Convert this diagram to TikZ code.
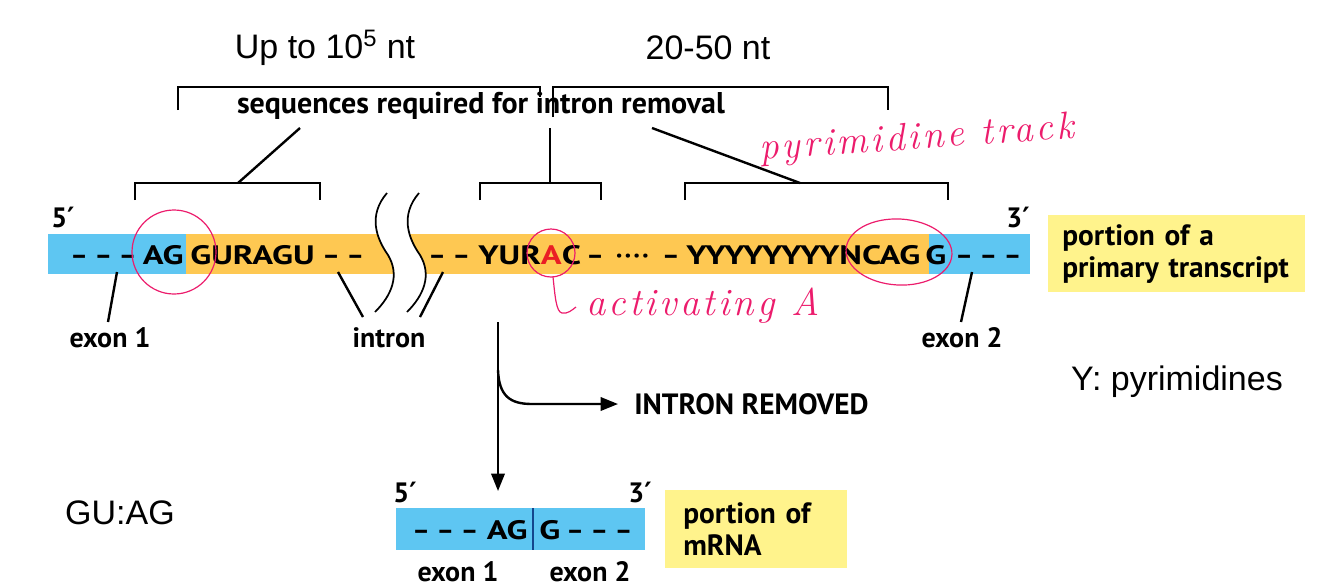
\documentclass[tikz,border=0pt]{standalone}
\usepackage{fontspec}
\setmainfont{PT Sans}
\newfontfamily\arialfont{Liberation Sans}
\newfontfamily\primefont{DejaVu Sans}
\newfontfamily\inkfont[LetterSpace=8]{Latin Modern Roman}
\usetikzlibrary{arrows.meta}

\definecolor{exonblue}{RGB}{94,198,242}
\definecolor{intronorange}{RGB}{254,200,82}
\definecolor{boxyellow}{RGB}{255,243,140}
\definecolor{inkpink}{RGB}{236,28,108}
\definecolor{splicered}{RGB}{234,30,36}
\definecolor{joinblue}{RGB}{20,70,140}

\newcommand{\prm}{{\primefont\bfseries ′}}
\newcommand{\dd}{–\hspace{5pt}}

\begin{document}
\begin{tikzpicture}[x=0.75pt, y=-0.75pt,
        exon/.style={fill=exonblue},
        intron/.style={fill=intronorange},
        dashes/.style={font=\bfseries\fontsize{20}{20}\selectfont, inner sep=0pt, anchor=base west},
        seq/.style={dashes, xscale=1.29, transform shape},
        tag/.style={font=\bfseries\fontsize{21}{21}\selectfont, inner sep=0pt},
        note/.style={font=\arialfont\fontsize{25.5}{25.5}\selectfont, inner sep=0pt},
        infobox/.style={fill=boxyellow, font=\bfseries\fontsize{22}{24}\selectfont, align=left, anchor=north west, inner ysep=0pt},
        line/.style={draw, line width=1.8pt},
        bracket/.style={draw, line width=1.4pt},
        ink/.style={draw=inkpink, line width=0.9pt},
        hand/.style={text=inkpink, font=\inkfont\itshape\fontsize{29}{29}\selectfont, inner sep=0pt},
        tip/.style={-{Triangle[length=13pt,width=10pt]}}]

    \useasboundingbox (0,0) rectangle (1334,587);

    % primary transcript
    \fill[exon] (48,234) rectangle (186,274);
    \fill[intron] (186,234) rectangle (929,274);
    \fill[exon] (929,234) rectangle (1030,274);
    \begin{scope}
        \clip (48,234) rectangle (1030,274);
        \fill[white] (387,193) .. controls (368,215) and (376,238) .. (388,255) .. controls (400,275) and (392,295) .. (375,312)
            -- (407,312) .. controls (424,295) and (432,275) .. (420,255) .. controls (408,238) and (400,215) .. (419,193) -- cycle;
    \end{scope}
    \foreach \dx in {0,32}
        \draw[line width=1.3pt, xshift=\dx*0.75pt] (387,193) .. controls (368,215) and (376,238) .. (388,255) .. controls (400,275) and (392,295) .. (375,312);

    \node[dashes] (dash1) at (70,264) {\dd\dd–};
    \node[seq, anchor=base east] (exonA) at (184,264) {AG};
    \node[seq] (donor) at (190,264) {GURAGU};
    \node[dashes] (dash2) at (322,264) {\dd–};
    \node[dashes] (dash3) at (428,264) {\dd–};
    \node[seq] (branch) at (478,264) {YUR\textcolor{splicered}{A}C};
    \node[dashes] (gap) at (586,264) {–\hspace{9pt}·\hspace{1.5pt}·\hspace{1.5pt}·\hspace{1.5pt}·\hspace{10pt}–};
    \node[seq] (acceptor) at (686,264) {YYYYYYYYNCAG};
    \node[seq] (exonB) at (925,264) {G};
    \node[dashes] (dash4) at (955,264) {\dd\dd–};

    \node[tag] (five) at (63,217) {5\prm};
    \node[tag] (three) at (1018,217) {3\prm};

    \node[infobox, text width=171.75pt, inner xsep=10.5pt, minimum height=57.75pt] (primary) at (1048,215) {portion of a\\primary transcript};

    % brackets
    \node[note] (long) at (325,48) {Up to 10\textsuperscript{5} nt};
    \node[note] (short) at (708,48) {20-50 nt};
    \path[bracket] (178,110) |- (540,87) -- (540,97);
    \path[bracket] (553,117) |- (888,87) -- (888,110);
    \node[tag, font=\bfseries\fontsize{22.5}{22.5}\selectfont] (req) at (481,106) {sequences required for intron removal};

    \path[bracket] (135,200) |- (320,183) -- (320,200);
    \path[bracket] (480,200) |- (601,183) -- (601,200);
    \path[bracket] (685,200) |- (948,183) -- (948,200);
    \coordinate (stemA) at (238,183);
    \coordinate (stemB) at (550,183);
    \coordinate (stemC) at (800,183);
    \coordinate (reqA) at (300,128);
    \coordinate (reqB) at (550,128);
    \coordinate (reqC) at (652,128);
    \path[line] (reqA) -- (stemA);
    \path[line] (reqB) -- (stemB);
    \path[line] (reqC) -- (stemC);

    % labels below
    \node[tag] (exon1) at (110,338) {exon 1};
    \node[tag] (intronlbl) at (389,338) {intron};
    \node[tag] (exon2) at (962,338) {exon 2};
    \coordinate (e1top) at (117,272);
    \coordinate (e1end) at (108,322);
    \coordinate (e2top) at (972,272);
    \coordinate (e2end) at (961,322);
    \coordinate (inL) at (338,272);
    \coordinate (inLend) at (363,317);
    \coordinate (inR) at (443,272);
    \coordinate (inRend) at (420,317);
    \path[line] (e1top) -- (e1end);
    \path[line] (e2top) -- (e2end);
    \path[line] (inL) -- (inLend);
    \path[line] (inR) -- (inRend);

    % splicing arrows
    \coordinate (split) at (498,322);
    \coordinate (mrnatop) at (498,491);
    \node[tag, anchor=west, font=\bfseries\fontsize{22}{22}\selectfont] (removed) at (634,404) {INTRON REMOVED};
    \path[line, tip] (split) -- (mrnatop);
    \path[line, tip] (498,370) .. controls (499,396) and (510,404) .. (532,404) -- ([xshift=-12pt]removed.west);

    % mRNA
    \fill[exon] (396,508) rectangle (645,550);
    \draw[joinblue, line width=1.5pt] (533,508) -- (533,550);
    \node[dashes] (mdash1) at (412,539) {\dd\dd–};
    \node[seq, anchor=base east] (mAG) at (528,539) {AG};
    \node[seq] (mG) at (539,539) {G};
    \node[dashes] (mdash2) at (566,539) {\dd\dd–};
    \node[tag] (mfive) at (405,492) {5\prm};
    \node[tag] (mthree) at (640,492) {3\prm};
    \node[tag] (mexon1) at (458,572) {exon 1};
    \node[tag] (mexon2) at (590,572) {exon 2};
    \node[infobox, text width=109pt, inner xsep=13.5pt, minimum height=58.5pt] (mrnabox) at (665,490) {portion of\\mRNA};

    \node[note] (ylegend) at (1177,382) {Y: pyrimidines};
    \node[note] (gulegend) at (120,513) {GU:AG};

    % handwriting
    \draw[ink] (174,252) circle[radius=42];
    \draw[ink] (551,253) circle[radius=24];
    \draw[ink, rotate around={-3:(899,252)}] (899,252) ellipse[x radius=53, y radius=33];
    \draw[ink] (553,277) .. controls (555,295) and (556,312) .. (562,313) .. controls (568,314) and (572,310) .. (576,307);
    \node[hand, anchor=base west] (activ) at (586,315) {activating A};
    \node[hand, anchor=base west, rotate=4] (pyr) at (760,160) {pyrimidine track};
\end{tikzpicture}
\end{document}
